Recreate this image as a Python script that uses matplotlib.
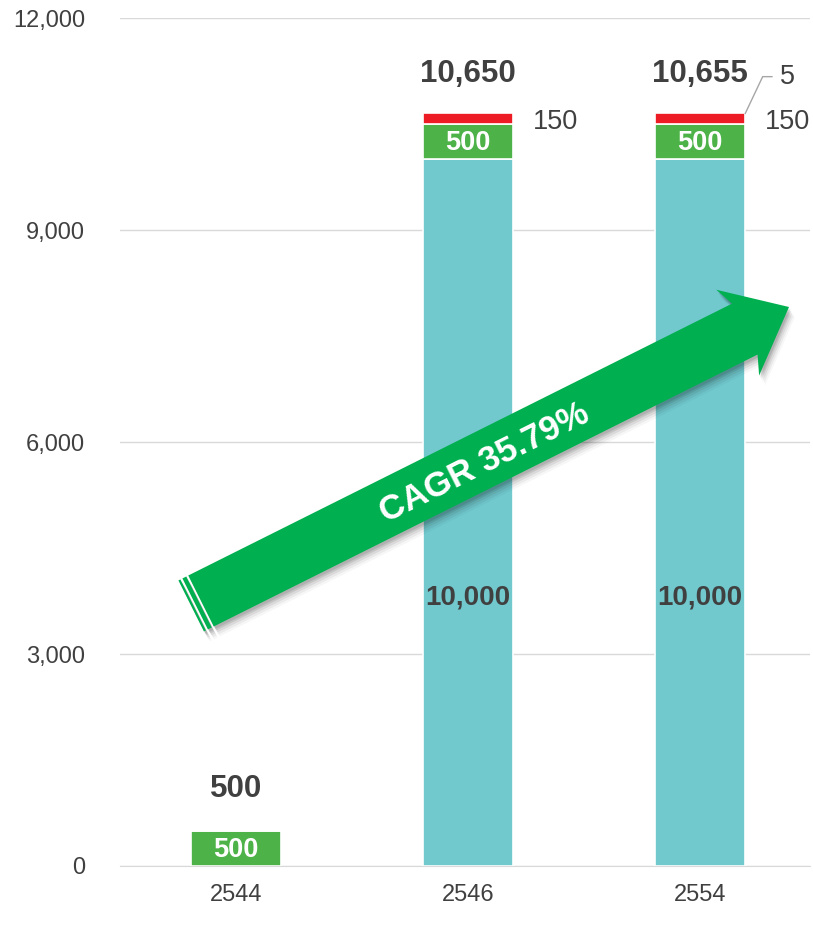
import numpy as np
import matplotlib
matplotlib.use("Agg")
import matplotlib.pyplot as plt
from matplotlib.patches import Polygon

plt.rcParams['font.family'] = ['Liberation Sans', 'DejaVu Sans']

# ---- data ----
years = ["2544", "2546", "2554"]
seg_teal = [0, 10000, 10000]
seg_green = [500, 500, 500]
seg_red = [0, 150, 150]
seg_other = [0, 0, 5]
totals = [500, 10650, 10655]
yticks = [0, 3000, 6000, 9000, 12000]
cagr_text = "CAGR 35.79%"

C_TEAL = "#71C9CE"
C_GREEN = "#4DB348"
C_RED = "#ED1C24"
C_OTHER = "#7F7F7F"
C_TXT = "#404040"
C_ARROW = "#00B050"

W, H = 813, 925
fig = plt.figure(figsize=(W / 100, H / 100), dpi=100)
ax = fig.add_axes([120 / W, 1 - 866 / H, 690 / W, 848 / H])

x = np.arange(len(years))
bw = 0.39
ax.bar(x, seg_teal, bw, color=C_TEAL, edgecolor="white", linewidth=1.2, zorder=2)
bot = np.array(seg_teal, dtype=float)
ax.bar(x, seg_green, bw, bottom=bot, color=C_GREEN, edgecolor="white", linewidth=1.2, zorder=2)
bot = bot + np.array(seg_green)
ax.bar(x, seg_red, bw, bottom=bot, color=C_RED, edgecolor="white", linewidth=1.2, zorder=2)
bot = bot + np.array(seg_red)
ax.bar(x, seg_other, bw, bottom=bot, color=C_OTHER, linewidth=0, zorder=2)

ax.set_xlim(-0.5, 2.474)
ax.set_ylim(0, 12000)
ax.set_yticks(yticks)
ax.set_yticklabels([f"{v:,}" for v in yticks])
ax.set_xticks(x)
ax.set_xticklabels(years)
ax.tick_params(axis='y', length=0, pad=25, labelsize=17, labelcolor=C_TXT)
ax.tick_params(axis='x', length=0, pad=13, labelsize=17, labelcolor=C_TXT)
ax.grid(axis='y', color="#D9D9D9", linewidth=1.0, zorder=0)
ax.set_axisbelow(True)
for s in ["left", "right", "top"]:
    ax.spines[s].set_visible(False)
ax.spines["bottom"].set_color("#D9D9D9")

# labels inside bars
for i in range(len(years)):
    if seg_teal[i] > 0:
        ax.text(x[i], 3800, f"{seg_teal[i]:,}", ha="center", va="center",
                fontsize=20, fontweight="bold", color=C_TXT, zorder=5)
    ax.text(x[i], seg_teal[i] + seg_green[i] / 2 - 20, f"{seg_green[i]:,}", ha="center", va="center",
            fontsize=19.5, fontweight="bold", color="white", zorder=5)
    if seg_red[i] > 0:
        ax.text(x[i] + 0.28, seg_teal[i] + seg_green[i] + 30, f"{seg_red[i]:,}", ha="left", va="center",
                fontsize=19.5, color=C_TXT, zorder=5)
    ty = 11210 if totals[i] > 5000 else 1090
    ax.text(x[i], ty, f"{totals[i]:,}", ha="center", va="center",
            fontsize=22.5, fontweight="bold", color=C_TXT, zorder=5)

# leader for "5"
i = 2
top = seg_teal[i] + seg_green[i] + seg_red[i]
ax.plot([x[i] + bw / 2, x[i] + 0.27, x[i] + 0.31], [top, 11170, 11170],
        color="#A6A6A6", linewidth=1.0, zorder=5, clip_on=False)
ax.text(x[i] + 0.345, 11170, f"{seg_other[i]}", ha="left", va="center",
        fontsize=19.5, color=C_TXT, zorder=5)

# ---- CAGR arrow (figure pixel geometry) ----
def P(px, py):
    return (px / W, 1 - py / H)

T = np.array([201.0, 601.0])
tip = np.array([789.0, 307.0])
d = tip - T
L = np.hypot(*d)
u = d / L
n = np.array([-u[1], u[0]])
hw = 28.5
hb = 608.0
hh = 48.0

def pt(s, t):
    return T + u * s + n * t

arrow_pts = [pt(0, -hw), pt(hb, -hw), pt(hb - 8, -hh), pt(L, 0), pt(hb - 8, hh), pt(hb, hw), pt(0, hw)]
stripes = [[pt(-6.5, -hw), pt(-2.2, -hw), pt(-2.2, hw), pt(-6.5, hw)],
           [pt(-11, -hw), pt(-8.8, -hw), pt(-8.8, hw), pt(-11, hw)]]

# soft shadow
for off, a in [(10, 0.03), (8, 0.05), (6, 0.07), (4, 0.09), (2.5, 0.1)]:
    for poly in [arrow_pts] + stripes:
        sh = [P(p[0] + off * 0.6, p[1] + off) for p in poly]
        fig.patches.append(Polygon(sh, closed=True, transform=fig.transFigure,
                                   facecolor="black", alpha=a, edgecolor="none", zorder=8))

for poly in [arrow_pts] + stripes:
    fig.patches.append(Polygon([P(*p) for p in poly], closed=True, transform=fig.transFigure,
                               facecolor=C_ARROW, edgecolor="none", zorder=9))

ang = np.degrees(np.arctan2(-d[1], d[0]))
c = pt(315, 3)
fig.text(*P(*c), cagr_text, rotation=ang, rotation_mode="anchor", ha="center", va="center",
         fontsize=25, fontweight="bold", color="white", zorder=10)

fig.savefig("out.png", dpi=100)
